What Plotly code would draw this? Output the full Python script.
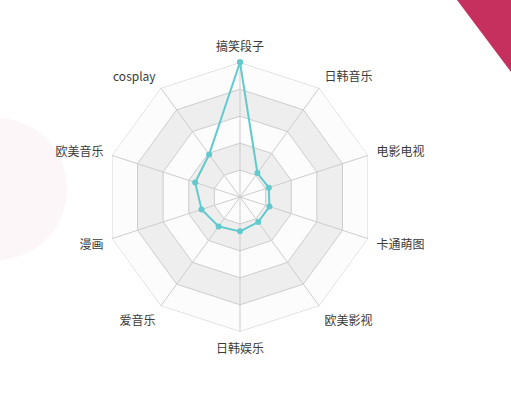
import plotly.graph_objects as go

# categories, clockwise from the top
categories = ['搞笑段子', '日韩音乐', '电影电视', '卡通萌图', '欧美影视',
              '日韩娱乐', '爱音乐', '漫画', '欧美音乐', 'cosplay']
values = [100, 22, 22.5, 23, 23, 25.5, 27, 30, 35, 39]
levels = [100, 80, 60, 40, 20]
band_colors = ['#fcfcfc', '#eeeeee', '#fcfcfc', '#eeeeee', '#fcfcfc']

W, H = 511, 403
cx, cy, R = 240, 197, 134.7

fig = go.Figure()

# alternating split areas, largest first so smaller ones sit on top
for lev, col in zip(levels, band_colors):
    fig.add_trace(go.Scatterpolar(
        r=[lev] * len(categories) + [lev], theta=categories + categories[:1],
        mode='lines', fill='toself', fillcolor=col,
        line=dict(color='#cccccc', width=1), hoverinfo='skip', showlegend=False))

# spokes on top of the bands
spoke_r, spoke_t = [], []
for c in categories:
    spoke_r += [0, levels[0], None]
    spoke_t += [c, c, c]
fig.add_trace(go.Scatterpolar(
    r=spoke_r, theta=spoke_t, mode='lines',
    line=dict(color='#cccccc', width=1), hoverinfo='skip', showlegend=False))

fig.add_trace(go.Scatterpolar(
    r=values + values[:1], theta=categories + categories[:1],
    mode='lines+markers', line=dict(color='#62c9cc', width=2),
    marker=dict(color='#62c9cc', size=6), showlegend=False))

fig.update_layout(
    width=W, height=H,
    margin=dict(l=0, r=0, t=0, b=0),
    paper_bgcolor='white',
    font=dict(family='Noto Sans CJK SC', size=12, color='#3a3a3a'),
    polar=dict(
        domain=dict(x=[(cx - R) / W, (cx + R) / W],
                    y=[(H - cy - R) / H, (H - cy + R) / H]),
        gridshape='linear',
        bgcolor='rgba(0,0,0,0)',
        radialaxis=dict(range=[0, 100], showticklabels=False, ticks='',
                        showgrid=False, showline=False),
        angularaxis=dict(direction='clockwise', rotation=90,
                         ticks='outside', ticklen=6,
                         tickcolor='rgba(0,0,0,0)',
                         showline=False, showgrid=False,
                         tickfont=dict(size=12, color='#3a3a3a')),
    ),
    shapes=[
        dict(type='circle', xref='paper', yref='paper', layer='below',
             x0=-73 / W, x1=67 / W, y0=(H - 189 - 71) / H, y1=(H - 189 + 71) / H,
             fillcolor='#fdf6f8', line=dict(width=0)),
        dict(type='path', xref='paper', yref='paper', layer='below',
             path='M {} 1 L 1 1 L 1 {} Z'.format(457 / W, (H - 72) / H),
             fillcolor='#c5305f', line=dict(width=0)),
    ],
)

fig.write_html("out.html", config={'displayModeBar': False},
               post_script="document.body.style.margin='0';"
                           "document.body.style.overflow='hidden';")
